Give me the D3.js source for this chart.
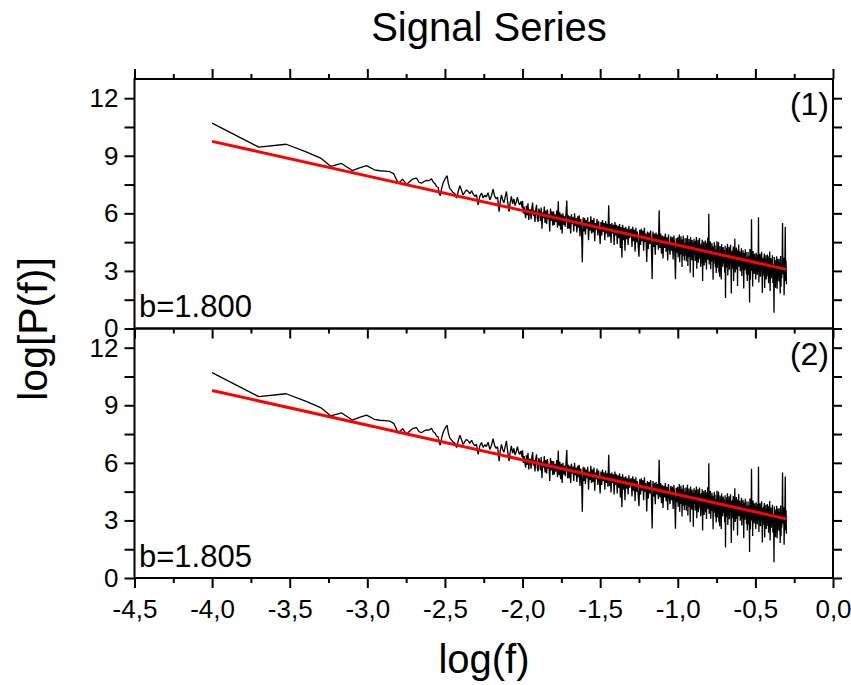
<!DOCTYPE html>
<html>
<head>
<meta charset="utf-8">
<script src="https://cdn.jsdelivr.net/npm/d3@7"></script>
<style>
  body { margin: 0; background: #fff; }
  svg text { font-family: "Liberation Sans", Arial, sans-serif; fill: #000; }
</style>
</head>
<body>
<div id="chart"></div>
<script>
// power spectrum, log(f) vs log[P(f)] (same series in both panels)
var spectrum = [
  [-4.000,10.70],[-3.699,9.45],[-3.523,9.60],[-3.398,9.22],[-3.301,8.88],[-3.236,8.45],[-3.166,8.60],[-3.097,8.23],
  [-3.046,8.38],[-3.005,8.49],[-2.955,8.27],[-2.921,8.22],[-2.886,8.20],[-2.854,8.17],[-2.830,8.06],[-2.800,7.55],
  [-2.773,7.78],[-2.747,7.50],[-2.721,7.70],[-2.705,7.80],[-2.683,7.84],[-2.667,7.62],[-2.651,7.57],[-2.635,7.66],
  [-2.619,7.72],[-2.603,7.70],[-2.587,7.80],[-2.575,7.62],[-2.565,7.56],[-2.554,7.40],[-2.544,7.36],[-2.537,7.05],
  [-2.530,6.92],[-2.521,7.30],[-2.512,7.58],[-2.499,7.80],[-2.486,7.96],[-2.478,7.55],[-2.469,7.30],[-2.458,7.20],
  [-2.447,7.08],[-2.436,7.02],[-2.425,6.80],[-2.414,7.15],[-2.404,7.44],[-2.393,7.20],[-2.383,6.96],[-2.372,7.10],
  [-2.361,7.22],[-2.350,7.14],[-2.339,7.02],[-2.328,7.18],[-2.318,7.00],[-2.307,6.88],[-2.297,6.98],[-2.286,6.44],
  [-2.275,6.90],[-2.264,7.06],[-2.254,6.80],[-2.243,6.95],[-2.233,6.85],[-2.222,7.08],[-2.211,6.70],[-2.200,6.92],
  [-2.190,7.26],[-2.180,6.90],[-2.170,6.75],[-2.161,6.85],[-2.151,6.09],[-2.144,6.60],[-2.136,6.96],[-2.128,6.70],
  [-2.120,6.55],[-2.112,6.85],[-2.104,7.14],[-2.096,6.60],[-2.087,6.09],[-2.080,6.55],[-2.072,6.88],[-2.064,6.50],
  [-2.056,6.75],[-2.048,6.40],[-2.040,6.62],[-2.033,6.85],[-2.025,6.55],[-2.018,6.44],[-2.010,6.62],[-2.003,6.30],
  [-2.000,6.65],[-1.995,6.00],[-1.990,6.35],[-1.985,6.00],[-1.980,5.75],[-1.975,6.40],[-1.970,5.90],[-1.965,6.53],[-1.960,5.65],[-1.955,6.20],
  [-1.950,6.18],[-1.945,5.70],[-1.940,6.30],[-1.935,6.56],[-1.930,5.85],[-1.925,6.15],[-1.920,5.55],[-1.915,6.20],[-1.910,6.44],[-1.905,5.75],
  [-1.900,5.55],[-1.895,6.25],[-1.890,6.09],[-1.885,5.60],[-1.880,6.30],[-1.875,5.20],[-1.870,6.05],[-1.865,5.75],[-1.860,6.35],[-1.855,5.50],
  [-1.850,6.15],[-1.845,5.45],[-1.840,6.20],[-1.835,5.70],[-1.830,5.95],[-1.825,5.05],[-1.820,6.25],[-1.815,5.60],[-1.810,6.10],[-1.805,5.35],
  [-1.800,6.10],[-1.795,5.40],[-1.790,5.95],[-1.785,5.55],[-1.780,6.15],[-1.775,5.25],[-1.770,6.63],[-1.765,5.35],[-1.760,6.05],[-1.755,5.15],
  [-1.750,5.95],[-1.745,4.95],[-1.740,6.00],[-1.735,5.40],[-1.730,5.85],[-1.725,5.30],[-1.720,6.05],[-1.715,6.67],[-1.710,5.20],[-1.705,5.90],
  [-1.700,5.20],[-1.695,5.85],[-1.690,4.95],[-1.685,5.95],[-1.680,5.45],[-1.675,5.80],[-1.670,5.05],[-1.665,6.00],[-1.660,5.35],[-1.655,5.75],
  [-1.650,5.00],[-1.645,5.85],[-1.640,5.25],[-1.635,5.90],[-1.630,4.80],[-1.625,5.70],[-1.620,5.15],[-1.615,3.45],[-1.610,5.80],[-1.605,5.05],
  [-1.600,5.75],[-1.595,4.90],[-1.590,5.65],[-1.585,5.20],[-1.580,5.80],[-1.575,4.60],[-1.570,5.55],[-1.565,5.10],[-1.560,5.85],[-1.555,4.95],
  [-1.550,5.65],[-1.545,5.00],[-1.540,5.75],[-1.535,4.55],[-1.530,5.50],[-1.525,5.15],[-1.520,5.70],[-1.515,4.85],[-1.510,5.60],[-1.505,5.05],
  [-1.500,4.40],[-1.495,5.55],[-1.490,4.85],[-1.485,5.65],[-1.480,5.05],[-1.475,5.50],[-1.470,4.60],[-1.465,5.60],[-1.460,4.95],[-1.455,5.45],
  [-1.450,4.75],[-1.445,6.42],[-1.440,4.80],[-1.435,5.45],[-1.430,4.45],[-1.425,5.50],[-1.420,4.95],[-1.415,5.40],[-1.410,4.35],[-1.405,5.55],
  [-1.400,4.85],[-1.395,5.40],[-1.390,4.40],[-1.385,5.35],[-1.380,4.70],[-1.375,5.45],[-1.370,4.20],[-1.365,5.30],[-1.360,3.69],[-1.355,5.40],
  [-1.350,4.60],[-1.345,5.25],[-1.340,4.05],[-1.335,5.30],[-1.330,4.65],[-1.325,5.20],[-1.320,4.35],[-1.315,5.35],[-1.310,4.70],[-1.305,5.10],
  [-1.300,5.20],[-1.295,4.25],[-1.290,5.30],[-1.285,4.55],[-1.280,5.15],[-1.275,4.00],[-1.270,5.25],[-1.265,4.50],[-1.260,5.05],[-1.255,4.30],
  [-1.250,3.74],[-1.245,5.15],[-1.240,4.35],[-1.235,5.20],[-1.230,4.55],[-1.225,5.10],[-1.220,4.05],[-1.215,5.25],[-1.210,4.50],[-1.205,4.95],
  [-1.200,3.46],[-1.195,5.05],[-1.190,4.15],[-1.185,5.00],[-1.180,4.40],[-1.175,5.10],[-1.170,4.30],[-1.165,2.58],[-1.160,5.05],[-1.155,4.25],
  [-1.150,4.95],[-1.145,3.85],[-1.140,5.00],[-1.135,4.35],[-1.130,4.90],[-1.125,4.10],[-1.120,6.16],[-1.115,4.20],[-1.110,4.95],[-1.105,3.90],
  [-1.100,4.85],[-1.095,3.65],[-1.090,4.80],[-1.085,4.20],[-1.080,4.95],[-1.075,4.00],[-1.070,4.75],[-1.065,3.55],[-1.060,4.90],[-1.055,4.25],
  [-1.050,3.85],[-1.045,4.80],[-1.040,4.05],[-1.035,4.75],[-1.030,3.60],[-1.025,4.85],[-1.020,4.20],[-1.015,2.57],[-1.010,4.70],[-1.005,3.95],
  [-1.0000,4.75],[-0.9975,3.70],[-0.9950,4.50],[-0.9925,4.00],[-0.9900,4.90],[-0.9875,3.45],[-0.9850,4.40],[-0.9825,3.85],[-0.9800,4.80],[-0.9775,4.10],
  [-0.9750,4.65],[-0.9725,3.20],[-0.9700,4.55],[-0.9675,3.75],[-0.9650,4.85],[-0.9625,4.15],[-0.9600,4.70],[-0.9575,3.55],[-0.9550,4.45],[-0.9525,3.95],
  [-0.9500,3.81],[-0.9475,4.71],[-0.9450,3.51],[-0.9425,4.51],[-0.9400,4.01],[-0.9375,4.86],[-0.9350,3.26],[-0.9325,4.36],[-0.9300,3.71],[-0.9275,4.66],
  [-0.9250,3.91],[-0.9225,4.46],[-0.9200,2.91],[-0.9175,4.76],[-0.9150,4.11],[-0.9125,4.56],[-0.9100,3.56],[-0.9075,4.61],[-0.9050,3.76],[-0.9025,4.41],
  [-0.9000,2.67],[-0.8975,4.42],[-0.8950,4.67],[-0.8925,3.87],[-0.8900,4.22],[-0.8875,3.52],[-0.8850,4.57],[-0.8825,3.72],[-0.8800,4.77],[-0.8775,3.12],
  [-0.8750,4.32],[-0.8725,3.77],[-0.8700,4.62],[-0.8675,3.42],[-0.8650,4.47],[-0.8625,3.97],[-0.8600,4.72],[-0.8575,3.62],[-0.8550,4.37],[-0.8525,3.22],
  [-0.8500,3.48],[-0.8475,4.43],[-0.8450,3.83],[-0.8425,4.63],[-0.8400,2.48],[-0.8375,4.33],[-0.8350,3.63],[-0.8325,4.53],[-0.8300,3.28],[-0.8275,4.18],
  [-0.8250,3.78],[-0.8225,4.58],[-0.8200,3.43],[-0.8175,4.38],[-0.8150,3.08],[-0.8125,4.48],[-0.8100,3.73],[-0.8075,4.73],[-0.8050,3.58],[-0.8025,4.13],
  [-0.8000,5.98],[-0.7975,3.34],[-0.7950,4.14],[-0.7925,3.64],[-0.7900,4.54],[-0.7875,3.09],[-0.7850,4.04],[-0.7825,3.49],[-0.7800,4.44],[-0.7775,3.74],
  [-0.7750,4.29],[-0.7725,2.54],[-0.7700,4.19],[-0.7675,3.39],[-0.7650,4.49],[-0.7625,3.79],[-0.7600,4.34],[-0.7575,3.19],[-0.7550,4.09],[-0.7525,2.89],
  [-0.7500,3.45],[-0.7475,4.55],[-0.7450,3.15],[-0.7425,4.15],[-0.7400,3.65],[-0.7375,4.50],[-0.7350,2.90],[-0.7325,4.00],[-0.7300,2.70],[-0.7275,4.30],
  [-0.7250,3.55],[-0.7225,4.10],[-0.7200,2.55],[-0.7175,4.40],[-0.7150,3.75],[-0.7125,4.20],[-0.7100,3.20],[-0.7075,4.25],[-0.7050,3.40],[-0.7025,4.05],
  [-0.7000,4.06],[-0.6975,2.91],[-0.6950,4.31],[-0.6925,1.59],[-0.6900,3.86],[-0.6875,3.16],[-0.6850,4.21],[-0.6825,3.36],[-0.6800,4.41],[-0.6775,2.76],
  [-0.6750,3.96],[-0.6725,3.41],[-0.6700,4.26],[-0.6675,3.06],[-0.6650,4.11],[-0.6625,3.61],[-0.6600,4.36],[-0.6575,3.26],[-0.6550,1.82],[-0.6525,4.01],
  [-0.6500,3.12],[-0.6475,4.07],[-0.6450,3.47],[-0.6425,4.27],[-0.6400,2.47],[-0.6375,3.97],[-0.6350,3.27],[-0.6325,4.67],[-0.6300,2.92],[-0.6275,3.82],
  [-0.6250,3.42],[-0.6225,4.22],[-0.6200,3.07],[-0.6175,4.02],[-0.6150,2.22],[-0.6125,4.12],[-0.6100,3.37],[-0.6075,4.37],[-0.6050,3.22],[-0.6025,3.77],
  [-0.6000,4.03],[-0.5975,2.98],[-0.5950,3.78],[-0.5925,3.28],[-0.5900,4.18],[-0.5875,2.73],[-0.5850,3.68],[-0.5825,3.13],[-0.5800,4.08],[-0.5775,3.38],
  [-0.5750,2.08],[-0.5725,3.93],[-0.5700,3.83],[-0.5675,3.03],[-0.5650,4.13],[-0.5625,3.43],[-0.5600,3.98],[-0.5575,2.83],[-0.5550,3.73],[-0.5525,2.48],
  [-0.5500,3.09],[-0.5475,3.99],[-0.5450,2.79],[-0.5425,3.79],[-0.5400,3.29],[-0.5375,1.35],[-0.5350,4.14],[-0.5325,2.54],[-0.5300,3.64],[-0.5275,2.99],
  [-0.5250,5.69],[-0.5225,3.19],[-0.5200,3.74],[-0.5175,2.19],[-0.5150,4.04],[-0.5125,3.39],[-0.5100,3.84],[-0.5075,2.84],[-0.5050,3.89],[-0.5025,3.04],
  [-0.5000,3.70],[-0.4975,2.55],[-0.4950,3.95],[-0.4925,3.15],[-0.4900,3.50],[-0.4875,2.80],[-0.4850,3.85],[-0.4825,3.00],[-0.4800,5.80],[-0.4775,2.40],
  [-0.4750,3.60],[-0.4725,3.05],[-0.4700,3.90],[-0.4675,2.70],[-0.4650,3.75],[-0.4625,3.25],[-0.4600,4.00],[-0.4575,2.90],[-0.4550,1.85],[-0.4525,3.65],
  [-0.4500,2.76],[-0.4475,3.71],[-0.4450,3.11],[-0.4425,3.91],[-0.4400,2.11],[-0.4375,3.61],[-0.4350,2.91],[-0.4325,3.81],[-0.4300,2.56],[-0.4275,3.46],
  [-0.4250,3.06],[-0.4225,3.86],[-0.4200,2.71],[-0.4175,3.66],[-0.4150,2.36],[-0.4125,3.76],[-0.4100,3.01],[-0.4075,4.01],[-0.4050,1.96],[-0.4025,3.41],
  [-0.4000,3.67],[-0.3975,2.62],[-0.3950,3.42],[-0.3925,2.92],[-0.3900,3.82],[-0.3875,2.37],[-0.3850,3.32],[-0.3825,2.77],[-0.3800,0.82],[-0.3775,3.72],
  [-0.3750,3.02],[-0.3725,3.57],[-0.3700,2.12],[-0.3675,3.47],[-0.3650,2.67],[-0.3625,3.77],[-0.3600,2.07],[-0.3575,3.62],[-0.3550,2.47],[-0.3525,3.37],
  [-0.3500,2.73],[-0.3475,3.63],[-0.3450,2.43],[-0.3425,3.43],[-0.3400,1.83],[-0.3375,3.78],[-0.3350,2.18],[-0.3325,3.28],[-0.3300,2.63],[-0.3275,3.58],
  [-0.3250,5.50],[-0.3225,2.83],[-0.3200,3.38],[-0.3175,3.68],[-0.3150,1.73],[-0.3125,3.03],[-0.3100,3.48],[-0.3075,5.29],[-0.3050,2.48],[-0.3025,3.53],
  [-0.3000,2.30]
];

// linear fit end points for each panel
var fitX = [-4.0, -0.3];
var fitY1 = [9.75, 3.08];
var fitY2 = [9.77, 3.08];

var panelNames = ["(1)", "(2)"];
var slopeNames = ["b=1.800", "b=1.805"];

var xMajor = [-4.5, -4.0, -3.5, -3.0, -2.5, -2.0, -1.5, -1.0, -0.5, 0.0];
var xMajorLabels = ["-4,5", "-4,0", "-3,5", "-3,0", "-2,5", "-2,0", "-1,5", "-1,0", "-0,5", "0,0"];
var xMinor = [-4.25, -3.75, -3.25, -2.75, -2.25, -1.75, -1.25, -0.75, -0.25];
var yMajor = [0, 3, 6, 9, 12];
var yMinor = [1.5, 4.5, 7.5, 10.5];

var width = 851;
var height = 685;
var left = 134.5, right = 833;
var panelTop = [79, 328.5];
var panelH = 249.5;

var svg = d3.select("#chart")
  .append("svg")
  .attr("width", width)
  .attr("height", height);

var x = d3.scaleLinear().domain([-4.5, 0]).range([left, right]);

var line = d3.line()
  .x(function (d) { return x(d[0]); });

function drawPanel(i, fitY) {
  var top = panelTop[i];
  var bottom = top + panelH;
  var y = d3.scaleLinear().domain([0, 13]).range([bottom, top]);
  var g = svg.append("g");

  // black spectrum
  g.append("path")
    .datum(spectrum)
    .attr("fill", "none")
    .attr("stroke", "#000")
    .attr("stroke-width", 1.3)
    .attr("stroke-linejoin", "bevel")
    .attr("d", line.y(function (d) { return y(d[1]); }));

  // red fit
  g.append("path")
    .datum(fitX.map(function (v, j) { return [v, fitY[j]]; }))
    .attr("fill", "none")
    .attr("stroke", "#ff0000")
    .attr("stroke-width", 3)
    .attr("d", line.y(function (d) { return y(d[1]); }));

  // y axes, left and right (all ticks outward)
  g.append("g").attr("transform", "translate(" + left + ",0)")
    .call(d3.axisLeft(y).tickValues(yMajor).tickSize(10).tickPadding(6));
  g.append("g").attr("transform", "translate(" + left + ",0)")
    .call(d3.axisLeft(y).tickValues(yMinor).tickSize(10).tickFormat(""));
  g.append("g").attr("transform", "translate(" + right + ",0)")
    .call(d3.axisRight(y).tickValues(yMajor.concat(yMinor)).tickSize(9).tickFormat(""));

  // x ticks: panel 1 top points up, both bottoms point down
  if (i == 0) {
    g.append("g").attr("transform", "translate(0," + top + ")")
      .call(d3.axisTop(x).tickValues(xMajor).tickSize(10).tickFormat(""));
    g.append("g").attr("transform", "translate(0," + top + ")")
      .call(d3.axisTop(x).tickValues(xMinor).tickSize(5).tickFormat(""));
  }
  g.append("g").attr("transform", "translate(0," + bottom + ")")
    .call(d3.axisBottom(x).tickValues(xMajor).tickSize(10).tickPadding(12)
      .tickFormat(function (d, k) { return i == 1 ? xMajorLabels[k] : ""; }));
  g.append("g").attr("transform", "translate(0," + bottom + ")")
    .call(d3.axisBottom(x).tickValues(xMinor).tickSize(5).tickFormat(""));

  g.selectAll(".domain").remove();
  g.selectAll(".tick line").attr("stroke", "#000").attr("stroke-width", 2);
  g.selectAll(".tick text").style("font-size", "26px").attr("fill", "#000");

  // frame
  g.append("rect")
    .attr("x", left).attr("y", top)
    .attr("width", right - left).attr("height", panelH)
    .attr("fill", "none")
    .attr("stroke", "#000")
    .attr("stroke-width", 2);

  g.append("text")
    .attr("x", 829).attr("y", top + 36)
    .attr("text-anchor", "end")
    .style("font-size", "32px")
    .text(panelNames[i]);

  g.append("text")
    .attr("x", 139).attr("y", top + 238)
    .style("font-size", "31px")
    .text(slopeNames[i]);
}

drawPanel(0, fitY1);
drawPanel(1, fitY2);

svg.append("text")
  .attr("x", 489).attr("y", 41)
  .attr("text-anchor", "middle")
  .style("font-size", "40px")
  .text("Signal Series");

svg.append("text")
  .attr("x", 484).attr("y", 673)
  .attr("text-anchor", "middle")
  .style("font-size", "40px")
  .text("log(f)");

svg.append("text")
  .attr("transform", "translate(47,329) rotate(-90)")
  .attr("text-anchor", "middle")
  .style("font-size", "41px")
  .text("log[P(f)]");
</script>
</body>
</html>
